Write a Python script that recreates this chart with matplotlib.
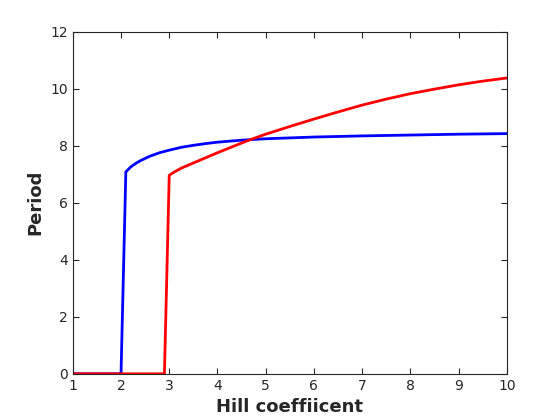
import matplotlib
matplotlib.use("Agg")
import matplotlib.pyplot as plt

# ---- data ----
blue_x = [1.0, 2.0, 2.1, 2.2, 2.3, 2.4, 2.5, 2.6, 2.8, 3.0, 3.25, 3.5, 3.75,
          4.0, 4.5, 5.0, 5.5, 6.0, 7.0, 8.0, 9.0, 10.0]
blue_y = [0.0, 0.0, 7.08, 7.25, 7.37, 7.47, 7.55, 7.63, 7.75, 7.84, 7.94, 8.01, 8.07,
          8.12, 8.19, 8.24, 8.27, 8.30, 8.34, 8.37, 8.40, 8.42]

red_x = [1.0, 2.9, 3.0, 3.1, 3.25, 3.5, 3.75, 4.0, 4.25, 4.5, 4.75, 5.0, 5.5,
         6.0, 6.5, 7.0, 7.5, 8.0, 8.5, 9.0, 9.5, 10.0]
red_y = [0.0, 0.0, 6.96, 7.07, 7.21, 7.39, 7.57, 7.75, 7.92, 8.09, 8.25, 8.40, 8.67,
         8.93, 9.18, 9.42, 9.63, 9.82, 9.98, 10.13, 10.26, 10.37]

x_ticks = [1, 2, 3, 4, 5, 6, 7, 8, 9, 10]
y_ticks = [0, 2, 4, 6, 8, 10, 12]

axis_col = "#262626"

fig = plt.figure(figsize=(5.6, 4.2), dpi=100)
ax = fig.add_axes([0.13, 0.11, 0.775, 0.815])

ax.plot(blue_x, blue_y, color="blue", lw=2)
ax.plot(red_x, red_y, color="red", lw=2)

ax.set_xlim(1, 10)
ax.set_ylim(0, 12)
ax.set_xticks(x_ticks)
ax.set_yticks(y_ticks)

ax.tick_params(direction="in", top=True, right=True, length=4,
               colors=axis_col, labelsize=10, width=0.8)
for s in ax.spines.values():
    s.set_color(axis_col)
    s.set_linewidth(0.8)

ax.set_xlabel("Hill coeffiicent", fontsize=13, fontweight="bold",
              color=axis_col, labelpad=4)
ax.set_ylabel("Period", fontsize=13, fontweight="bold",
              color=axis_col, labelpad=4)

fig.savefig("out.png", dpi=100)
